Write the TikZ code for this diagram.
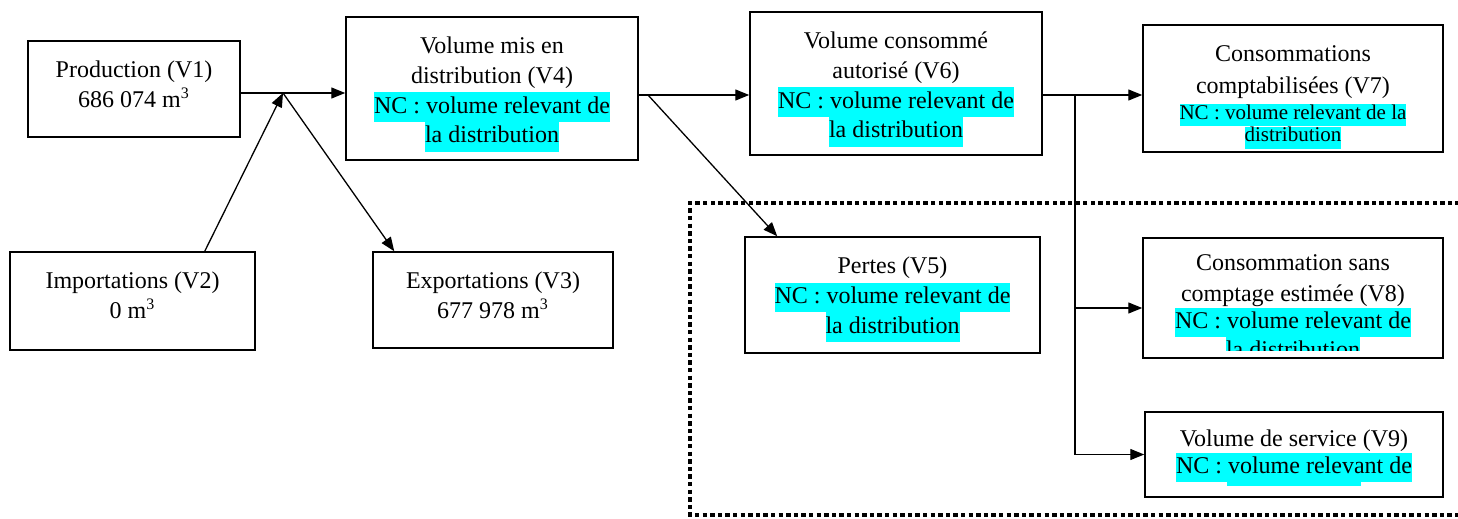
\documentclass[tikz,border=0pt]{standalone}
\usepackage{fontspec}
\setmainfont{Liberation Serif}
\usetikzlibrary{arrows.meta}

\definecolor{nchl}{RGB}{0,255,255}
\newcommand{\hlnc}[1]{{\setlength{\fboxsep}{0pt}\colorbox{nchl}{\strut #1}}}

\begin{document}
\begin{tikzpicture}[x=0.5pt,y=-0.5pt,
  box/.style={draw,line width=0.75pt,inner sep=0pt},
  boxtext/.style={anchor=north,inner sep=0pt,align=center,font=\fontsize{12}{14.8}\selectfont,execute at begin node=\strut,yshift=-10.3pt},
  flow/.style={line width=0.65pt,-{Triangle[length=7pt,width=5.5pt]}},
  plain/.style={line width=0.65pt},
  dotframe/.style={line width=2.2pt,dash pattern=on 2.2pt off 1.6pt}]

\useasboundingbox (0,0) rectangle (1458,519);

% frame round the losses and the unmetered volumes
\draw [dotframe] (1475,203) -- (690,203) -- (690,515) -- (1475,515);

% boxes
\node [box,minimum width=106pt,minimum height=48pt] (v1) at (134,89) {};
\node [boxtext] (v1t) at (v1.north) {Production (V1)\\686 074 m\textsuperscript{3}};

\node [box,minimum width=122.5pt,minimum height=49pt] (v2) at (132.5,301) {};
\node [boxtext] (v2t) at (v2.north) {Importations (V2)\\0 m\textsuperscript{3}};

\node [box,minimum width=120pt,minimum height=48pt] (v3) at (493,300) {};
\node [boxtext] (v3t) at (v3.north) {Exportations (V3)\\677 978 m\textsuperscript{3}};

\node [box,minimum width=146pt,minimum height=71.5pt] (v4) at (492,88.5) {};
\node [boxtext] (v4t) at (v4.north) {Volume mis en\\distribution (V4)\\\hlnc{NC : volume relevant de}\\\hlnc{la distribution}};

\node [box,minimum width=147.5pt,minimum height=58pt] (v5) at (892.5,295) {};
\node [boxtext] (v5t) at (v5.north) {Pertes (V5)\\\hlnc{NC : volume relevant de}\\\hlnc{la distribution}};

\node [box,minimum width=146pt,minimum height=71.5pt] (v6) at (896,83.5) {};
\node [boxtext] (v6t) at (v6.north) {Volume consommé\\autorisé (V6)\\\hlnc{NC : volume relevant de}\\\hlnc{la distribution}};

\node [box,minimum width=150pt,minimum height=63.5pt] (v7) at (1293,88.5) {};
\node [boxtext] (v7t) at (v7.north) {Consommations\\[1.5pt]comptabilisées (V7)\\[-2pt]
  {\fontsize{10.5}{11}\selectfont\hlnc{NC : volume relevant de la}}\\[-3.5pt]
  {\fontsize{10.5}{11}\selectfont\hlnc{distribution}}};

\node [box,minimum width=150pt,minimum height=60pt] (v8) at (1293,298) {};
\begin{scope}
\clip (v8.north west) rectangle ([yshift=4pt]v8.south east);
\node [boxtext,yshift=2pt] (v8t) at (v8.north) {Consommation sans\\[1pt]comptage estimée (V8)\\[-1.5pt]\hlnc{NC : volume relevant de}\\\hlnc{la distribution}};
\end{scope}

\node [box,minimum width=149pt,minimum height=42.5pt] (v9) at (1294,454.5) {};
\begin{scope}
\clip (v9.north west) rectangle ([yshift=6pt]v9.south east);
\node [boxtext,yshift=1pt] (v9t) at (v9.north) {Volume de service (V9)\\[-1.5pt]\hlnc{NC : volume relevant de}\\\hlnc{la distribution}};
\end{scope}

% connectors
\coordinate (j1) at (283,93);
\coordinate (j2) at (648,95);
\coordinate (j3) at (1075,95);
\coordinate (j4) at (1075,308);

\draw [flow] (v1.east |- j1) -- (v4.west |- j1);
\draw [flow] ([xshift=-25.5pt]v2.north east) -- (j1);
\draw [flow] (j1) -- ([xshift=11pt]v3.north west);

\draw [flow] (v4.east |- j2) -- (v6.west |- j2);
\draw [flow] (j2) -- ([xshift=16.5pt]v5.north west);

\draw [flow] (v6.east |- j3) -- (v7.west |- j3);
\draw [plain] (j3) -- (j4);
\draw [flow] (j4) -- (v8.west |- j4);
\draw [flow] (j4) |- (v9.west);

\end{tikzpicture}
\end{document}
